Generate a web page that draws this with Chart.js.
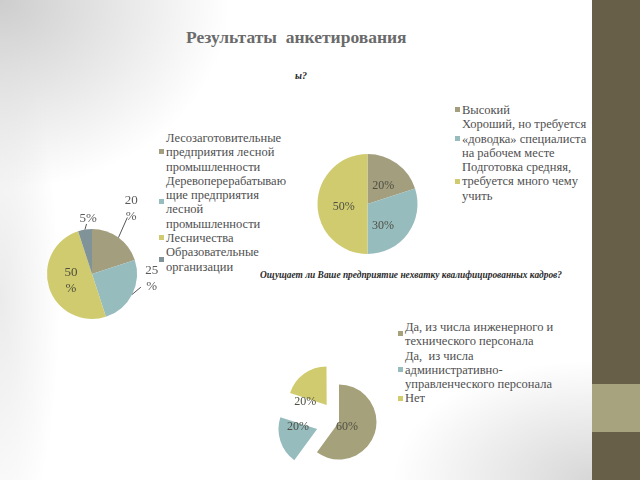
<!DOCTYPE html>
<html><head><meta charset="utf-8">
<script src="https://cdn.jsdelivr.net/npm/chart.js@4.4.1/dist/chart.umd.min.js"></script>
<style>
html,body{margin:0;padding:0;width:640px;height:480px;overflow:hidden;}
body{position:relative;font-family:"Liberation Serif","Times New Roman",serif;
 background:
  radial-gradient(ellipse 230px 190px at 0 0, rgba(205,205,205,1), rgba(255,255,255,0)),
  radial-gradient(ellipse 200px 120px at 592px 480px, rgba(215,215,215,1), rgba(255,255,255,0)),
  radial-gradient(ellipse 60px 260px at 0 300px, rgba(235,235,235,1), rgba(255,255,255,0)),
  #fff;}
.band{position:absolute;left:592px;top:0;width:48px;height:480px;background:#675f48;}
.band2{position:absolute;left:592px;top:384px;width:48px;height:48px;background:#a7a37e;}
.title{position:absolute;left:186px;top:26px;font-size:17.5px;font-weight:bold;color:#6a6a6a;white-space:pre;line-height:22px;}
.sub{position:absolute;font-style:italic;color:#2a2a2a;white-space:pre;transform-origin:0 50%;font-family:"Liberation Serif",serif;}
canvas{position:absolute;}
.legend{position:absolute;font-family:"Liberation Serif",serif;font-size:12.5px;line-height:14.3px;color:#505050;}
.entry{position:relative;white-space:pre;}
.mk{position:absolute;width:5px;height:5px;left:-7px;top:50%;margin-top:-3px;}
</style></head>
<body>
<div class="band"></div><div class="band2"></div>
<div class="title" id="mainTitle"></div>
<div class="sub" id="partTitle" style="left:295px;top:70px;font-size:10px;font-weight:bold;"></div>
<div class="sub" id="shortTitle" style="left:260px;top:268px;font-size:11px;font-weight:bold;"></div>
<div class="legend" id="lg1" style="left:166px;top:131px;"></div>
<div class="legend" id="lg2" style="left:462px;top:103px;"></div>
<div class="legend" id="lg3" style="left:405px;top:320px;"></div>
<canvas id="c1" width="180" height="180" style="left:2px;top:184px;"></canvas>
<canvas id="c2" width="121" height="120" style="left:307px;top:144px;"></canvas>
<canvas id="c3" width="160" height="160" style="left:259px;top:342px;"></canvas>
<script>
// ---- data ----
const mainTitle = "Результаты  анкетирования";
const partialTitle = "ы?";
const shortageTitle = "Ощущает ли Ваше предприятие нехватку квалифицированных кадров?";

const sourceCategories = [
  "Лесозаготовительные\nпредприятия лесной\nпромышленности",
  "Деревоперерабатываю\nщие предприятия\nлесной\nпромышленности",
  "Лесничества",
  "Образовательные\nорганизации"
];
const sourceValues = [20, 25, 50, 5];

const levelCategories = [
  "Высокий",
  "Хороший, но требуется\n«доводка» специалиста\nна рабочем месте",
  "Подготовка средняя,\nтребуется много чему\nучить"
];
const levelValues = [20, 30, 50];

const shortageCategories = [
  "Да, из числа инженерного и\nтехнического персонала",
  "Да,  из числа\nадминистративно-\nуправленческого персонала",
  "Нет"
];
const shortageValues = [60, 20, 20];

const olive = "#a29e7e", blue = "#97bcbe", yellow = "#cfcb6e", grayBlue = "#7f9398";

// ---- text ----
document.getElementById('mainTitle').textContent = mainTitle;
document.getElementById('partTitle').textContent = partialTitle;
const st = document.getElementById('shortTitle');
st.textContent = shortageTitle;
st.style.transform = 'scaleX(' + (302 / st.getBoundingClientRect().width) + ')';

function buildLegend(id, cats, colors) {
  const el = document.getElementById(id);
  cats.forEach((c, i) => {
    const e = document.createElement('div'); e.className = 'entry';
    e.textContent = c;
    const m = document.createElement('span'); m.className = 'mk'; m.style.background = colors[i];
    e.appendChild(m); el.appendChild(e);
  });
}

// ---- label plugin ----
const pctLabels = {
  id: 'pctLabels',
  afterDatasetsDraw(chart, args, opts) {
    const ctx = chart.ctx;
    const meta = chart.getDatasetMeta(0);
    const vals = chart.data.datasets[0].data;
    meta.data.forEach((arc, i) => {
      const p = opts.place[i];
      const {x, y, startAngle, endAngle, outerRadius} = arc.getProps(['x','y','startAngle','endAngle','outerRadius'], true);
      const mid = (startAngle + endAngle) / 2;
      const off = (arc.options.offset || 0) / 4;
      const vx = x + Math.cos(mid) * off, vy = y + Math.sin(mid) * off;
      const a = mid + p.nudge * Math.PI / 180;
      const lx = vx + Math.cos(a) * p.r * outerRadius, ly = vy + Math.sin(a) * p.r * outerRadius;
      ctx.save();
      if (p.leader) {
        const ex = vx + Math.cos(mid) * outerRadius, ey = vy + Math.sin(mid) * outerRadius;
        ctx.strokeStyle = '#555'; ctx.lineWidth = 1;
        ctx.beginPath(); ctx.moveTo(ex, ey);
        ctx.lineTo(ex + (lx - ex) * p.leader, ey + (ly - ey) * p.leader); ctx.stroke();
      }
      ctx.fillStyle = p.color || opts.color;
      ctx.font = opts.font;
      ctx.textAlign = 'center'; ctx.textBaseline = 'middle';
      const lines = p.wrap ? [String(vals[i]), '%'] : [vals[i] + '%'];
      lines.forEach((t, k) => ctx.fillText(t, lx, ly + (k - (lines.length - 1) / 2) * opts.lh));
      ctx.restore();
    });
  }
};

function makePie(id, cats, vals, colors, offsets, radius, labelOpts) {
  new Chart(document.getElementById(id), {
    type: 'pie',
    data: {
      labels: cats.map(c => c.replace(/\n/g, ' ')),
      datasets: [{ data: vals, backgroundColor: colors, borderWidth: 0, offset: offsets }]
    },
    options: {
      responsive: false, animation: false, radius: radius,
      layout: { padding: 0 },
      plugins: { legend: { display: false }, tooltip: { enabled: false }, pctLabels: labelOpts }
    },
    plugins: [pctLabels]
  });
}

const c1Colors = [olive, blue, yellow, grayBlue];
const c2Colors = [olive, blue, yellow];
const c3Colors = ["#a5a17b", blue, yellow];

buildLegend('lg1', sourceCategories, c1Colors);
buildLegend('lg2', levelCategories, c2Colors);
buildLegend('lg3', shortageCategories, c3Colors);

makePie('c1', sourceCategories, sourceValues, c1Colors, 0, 45, {
  font: '13px "Liberation Serif", serif', color: '#5a5a5a', lh: 16,
  place: [
    {r: 1.69, nudge: -5, wrap: true, leader: 0.7},
    {r: 1.33, nudge: -23, wrap: true, leader: 0.45},
    {r: 0.49, nudge: 0, wrap: true, color: '#4f4f3c'},
    {r: 1.24, nudge: 5, wrap: false, leader: 0.5}
  ]
});
makePie('c2', levelCategories, levelValues, c2Colors, 0, 50, {
  font: '12px "Liberation Serif", serif', color: '#4f4f44', lh: 14,
  place: [
    {r: 0.48, nudge: 5}, {r: 0.54, nudge: 19}, {r: 0.48, nudge: -7}
  ]
});
makePie('c3', shortageCategories, shortageValues, c3Colors, [0, 92, 84], 37.5, {
  font: '12px "Liberation Serif", serif', color: '#4f4f44', lh: 14,
  place: [
    {r: 0.25, nudge: 14}, {r: 0.51, nudge: 24}, {r: 0.58, nudge: -45}
  ]
});
</script>
</body></html>
